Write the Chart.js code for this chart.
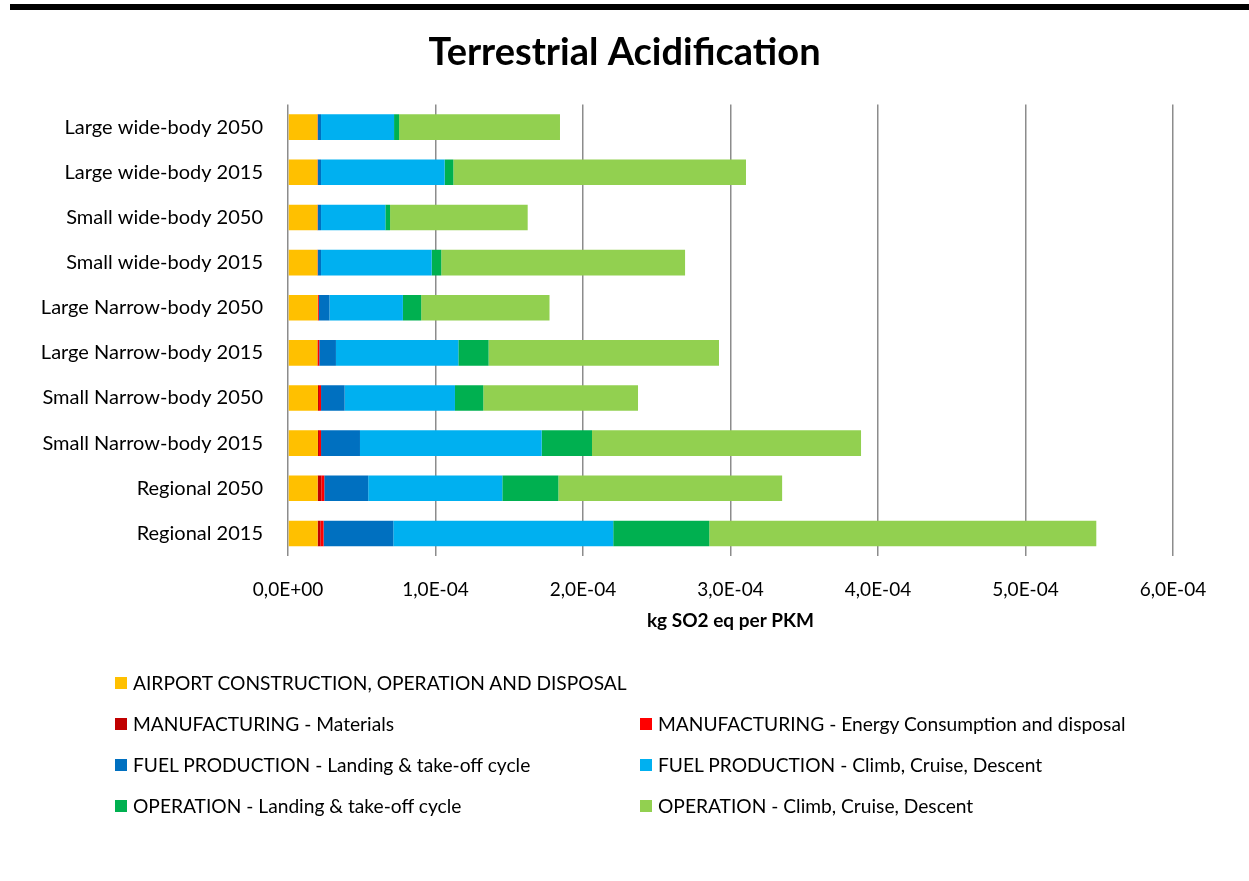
<!DOCTYPE html>
<html>
<head>
<meta charset="utf-8">
<title>Terrestrial Acidification</title>
<script src="https://cdn.jsdelivr.net/npm/chart.js@4.4.1/dist/chart.umd.min.js"></script>
<style>
    html, body { margin: 0; padding: 0; background: #ffffff; }
    body { width: 1249px; height: 881px; position: relative; overflow: hidden; font-family: 'Lato', sans-serif; }
    .top-rule { position: absolute; left: 10px; right: 0; top: 4px; height: 6px; background: #000; }
    #chart-wrap { position: absolute; left: 0; top: 0; width: 1249px; height: 660px; }
    #legend { position: absolute; left: 0; top: 0; width: 1249px; height: 881px; pointer-events: none; }
    .legend-item { position: absolute; display: flex; align-items: center; font-size: 19.2px; color: #000; white-space: nowrap; line-height: 1; }
    .legend-box { width: 12px; height: 12px; margin-right: 6px; flex: none; }
</style>
</head>
<body>
<div class="top-rule"></div>
<div id="chart-wrap"><canvas id="acidChart"></canvas></div>
<div id="legend"></div>

<script>
// categories, top to bottom
const categories = [
    'Large wide-body 2050', 'Large wide-body 2015',
    'Small wide-body 2050', 'Small wide-body 2015',
    'Large Narrow-body 2050', 'Large Narrow-body 2015',
    'Small Narrow-body 2050', 'Small Narrow-body 2015',
    'Regional 2050', 'Regional 2015'
];

const seriesNames = [
    'AIRPORT CONSTRUCTION, OPERATION AND DISPOSAL',
    'MANUFACTURING - Materials',
    'MANUFACTURING - Energy Consumption and disposal',
    'FUEL PRODUCTION - Landing & take-off cycle',
    'FUEL PRODUCTION - Climb, Cruise, Descent',
    'OPERATION - Landing & take-off cycle',
    'OPERATION - Climb, Cruise, Descent'
];

// kg SO2 eq per PKM
const airport     = [19.9e-6, 19.9e-6, 19.9e-6, 19.9e-6, 20.1e-6, 19.9e-6, 20.3e-6, 20.3e-6, 20.1e-6, 20.1e-6];
const mfgMaterial = [0.1e-6, 0.1e-6, 0.1e-6, 0.1e-6, 0.2e-6, 0.3e-6, 0.7e-6, 0.7e-6, 2.5e-6, 2.0e-6];
const mfgEnergy   = [0.2e-6, 0.2e-6, 0.2e-6, 0.2e-6, 0.6e-6, 1.0e-6, 1.4e-6, 1.4e-6, 2.0e-6, 2.0e-6];
const fuelLto     = [2.2e-6, 2.2e-6, 2.2e-6, 2.2e-6, 7.2e-6, 11.3e-6, 16.0e-6, 26.4e-6, 29.8e-6, 47.3e-6];
const fuelCcd     = [49.5e-6, 83.8e-6, 43.6e-6, 75.0e-6, 49.8e-6, 83.0e-6, 74.8e-6, 123.2e-6, 90.9e-6, 149.1e-6];
const opLto       = [3.4e-6, 5.9e-6, 3.2e-6, 6.5e-6, 12.4e-6, 20.5e-6, 19.2e-6, 34.1e-6, 38.0e-6, 65.1e-6];
const opCcd       = [109.1e-6, 198.4e-6, 93.3e-6, 165.3e-6, 87.0e-6, 156.2e-6, 104.9e-6, 182.4e-6, 151.7e-6, 262.4e-6];

const xTicks = [0, 1e-4, 2e-4, 3e-4, 4e-4, 5e-4, 6e-4];

const seriesColors = ['#FFC000', '#C00000', '#FF0000', '#0070C0', '#00B0F0', '#00B050', '#92D050'];
const seriesData = [airport, mfgMaterial, mfgEnergy, fuelLto, fuelCcd, opLto, opCcd];

// Excel style "1,0E-04"
const formatSci = (v) => {
    const parts = Number(v).toExponential(1).split('e');
    const exp = parseInt(parts[1], 10);
    const sign = exp < 0 ? '-' : '+';
    return parts[0].replace('.', ',') + 'E' + sign + String(Math.abs(exp)).padStart(2, '0');
};

function buildLegend(chart) {
    const box = document.getElementById('legend');
    box.innerHTML = '';
    chart.data.datasets.forEach((ds, i) => {
        const row = i === 0 ? 0 : Math.ceil(i / 2);
        const col = i === 0 ? 0 : (i - 1) % 2;
        const item = document.createElement('div');
        item.className = 'legend-item';
        item.style.left = (col === 0 ? 115 : 640) + 'px';
        item.style.top = (673 + row * 41) + 'px';
        item.innerHTML = `<span class="legend-box" style="background:${ds.backgroundColor}"></span><span>${ds.label}</span>`;
        box.appendChild(item);
    });
}

function initChart() {
    Chart.defaults.font.family = "'Lato', sans-serif";
    Chart.defaults.color = '#000000';

    const ctx = document.getElementById('acidChart').getContext('2d');
    const chart = new Chart(ctx, {
        type: 'bar',
        data: {
            labels: categories,
            datasets: seriesNames.map((name, i) => ({
                label: name,
                data: seriesData[i],
                backgroundColor: seriesColors[i],
                borderWidth: 0,
                barPercentage: 0.567,
                categoryPercentage: 1.0,
                yAxisID: 'y'
            }))
        },
        options: {
            indexAxis: 'y',
            responsive: true,
            maintainAspectRatio: false,
            animation: false,
            layout: { padding: { left: 0, right: 0, top: 0, bottom: 28 } },
            scales: {
                x: {
                    stacked: true,
                    min: 0,
                    max: 6e-4,
                    afterBuildTicks: (scale) => { scale.ticks = xTicks.map(v => ({ value: v })); },
                    afterFit: (scale) => { scale.height = 76; },
                    grid: { color: '#8c8c8c', lineWidth: 1.5, drawTicks: false },
                    border: { display: false },
                    ticks: {
                        padding: 22,
                        maxRotation: 0,
                        font: { size: 19 },
                        callback: (v) => formatSci(v)
                    },
                    title: {
                        display: true,
                        text: 'kg SO2 eq per PKM',
                        font: { size: 19, weight: 'bold' },
                        padding: { top: 9, bottom: 0 }
                    }
                },
                y: {
                    stacked: true,
                    grid: { display: false, drawTicks: false },
                    border: { display: false },
                    afterFit: (scale) => { scale.width = 288; },
                    ticks: { padding: 25, font: { size: 20 } }
                },
                // empty right-hand strip so the plot ends at 6,0E-04 while the title stays page-centred
                yRight: {
                    type: 'category',
                    position: 'right',
                    grid: { display: false, drawTicks: false },
                    border: { display: false },
                    ticks: { display: false },
                    afterFit: (scale) => { scale.width = 76; }
                }
            },
            plugins: {
                legend: { display: false },
                tooltip: { enabled: false },
                title: {
                    display: true,
                    text: 'Terrestrial Acidification',
                    font: { size: 38, weight: 'bold' },
                    color: '#000000',
                    padding: { top: 30, bottom: 29 }
                }
            }
        }
    });

    buildLegend(chart);
}

document.addEventListener('DOMContentLoaded', () => {
    Promise.all([
        document.fonts.load("19px 'Lato'"),
        document.fonts.load("bold 38px 'Lato'")
    ]).catch(() => {}).then(initChart);
});
</script>
</body>
</html>
